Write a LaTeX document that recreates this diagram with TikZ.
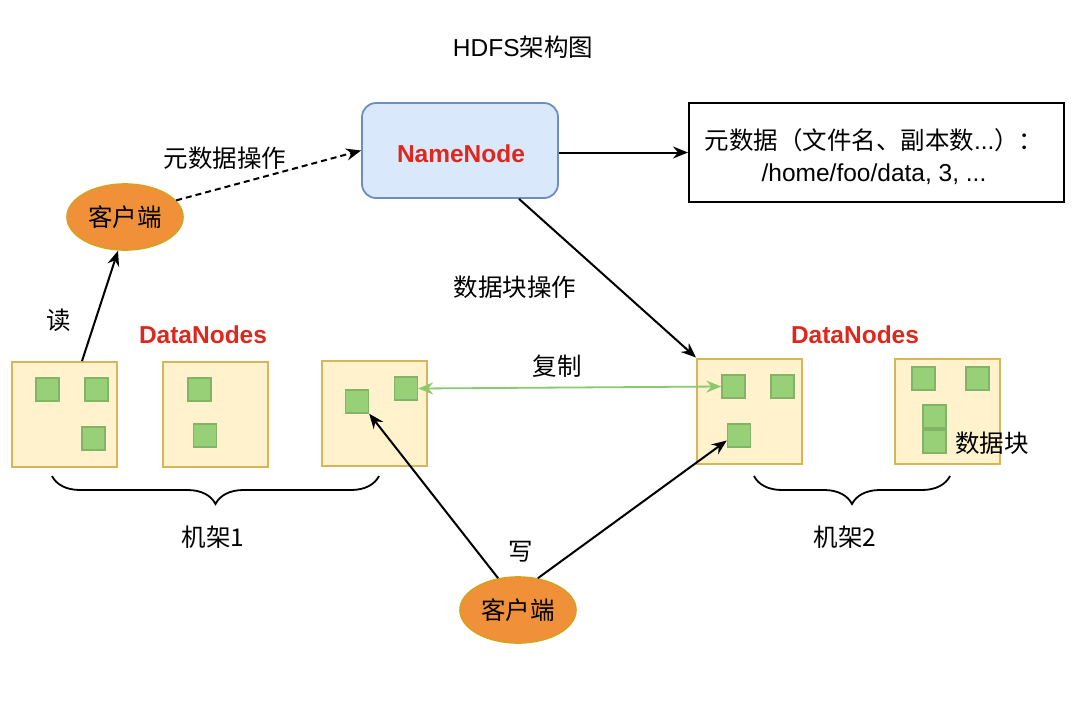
\documentclass[tikz,border=0pt]{standalone}
\usepackage{fontspec}
\setmainfont{Liberation Sans}
\newfontfamily\cjk{Noto Sans CJK SC}
\usetikzlibrary{arrows.meta,decorations.pathreplacing,shapes.geometric}
\definecolor{nnfill}{HTML}{DAE8FC}
\definecolor{nndraw}{HTML}{6C8EBF}
\definecolor{dnfill}{HTML}{FFF2CC}
\definecolor{dndraw}{HTML}{D6B656}
\definecolor{blkfill}{HTML}{97D077}
\definecolor{blkdraw}{HTML}{82B366}
\definecolor{clfill}{RGB}{240,145,58}
\definecolor{cldraw}{RGB}{215,160,30}
\definecolor{redtxt}{RGB}{222,40,30}
\definecolor{grn}{RGB}{140,200,110}
\begin{document}
\begin{tikzpicture}[x=1pt,y=-1pt,
  lbl/.style={font=\fontsize{24.5}{29}\selectfont, inner sep=0pt},
  clbl/.style={font=\fontsize{24.5}{29}\selectfont\cjk, inner sep=0pt},
  red/.style={font=\fontsize{24.5}{29}\selectfont\bfseries, text=redtxt, inner sep=0pt},
  nnbox/.style={draw=nndraw, fill=nnfill, rounded corners=14pt, line width=1.8pt, minimum width=196pt, minimum height=95pt},
  metabox/.style={draw=black, line width=2pt, minimum width=375pt, minimum height=99pt},
  client/.style={ellipse, draw=cldraw, fill=clfill, line width=1.6pt, minimum width=116pt, minimum height=66pt, inner sep=0pt, font=\fontsize{24.5}{29}\selectfont\cjk},
  dnbox/.style={draw=dndraw, fill=dnfill, line width=2pt, minimum width=105pt, minimum height=105pt, inner sep=0pt},
  blk/.style={draw=blkdraw, fill=blkfill, line width=1.4pt, minimum size=23pt, inner sep=0pt},
  tip/.tip={Stealth[length=15pt,width=12pt,inset=5pt]},
  arr/.style={-tip, line width=2pt},
  brace/.style={decorate, decoration={brace, amplitude=28pt}, line width=1.8pt}
]
\useasboundingbox (0,0) rectangle (1072,702);
\fill[white] (0,0) rectangle (1072,702);

% title
\node[lbl] (title) at (523,47) {HDFS{\cjk 架构图}};

% NameNode and metadata
\node[nnbox] (nn) at (460,150.5) {};
\node[red] (nnlbl) at (461,154) {NameNode};
\node[metabox] (meta) at (876.5,152.5) {};
\node[lbl, align=center, font=\fontsize{24.5}{32}\selectfont] (metatxt) at (874,157) {{\cjk 元数据（文件名、副本数}...{\cjk ）：}\\/home/foo/data, 3, ...};

% clients
\node[client] (c1) at (125,217) {客户端};
\node[client] (c2) at (518,610) {客户端};

% rack 1
\node[dnbox] (dA) at (64,414.5) {};
\node[dnbox] (dB) at (215.5,414.5) {};
\node[dnbox] (dC) at (374,413.5) {};
\node[blk] (a1) at (47.5,389.5) {};
\node[blk] (a2) at (96.5,389.5) {};
\node[blk] (a3) at (93.5,438.5) {};
\node[blk] (b1) at (199.5,389.5) {};
\node[blk] (b2) at (205,435.5) {};
\node[blk] (cc1) at (357,401.5) {};
\node[blk] (cc2) at (406,388.5) {};

% rack 2
\node[dnbox] (dD) at (749.5,411) {};
\node[dnbox] (dE) at (947,411) {};
\node[blk] (d1) at (733.5,386.5) {};
\node[blk] (d2) at (782.5,386.5) {};
\node[blk] (d3) at (739,435.5) {};
\node[blk] (e1) at (923.5,378.5) {};
\node[blk] (e2) at (977.5,378.5) {};
\node[blk] (e3) at (934.5,416.5) {};
\node[blk] (e4) at (934.5,441.5) {};
\node[clbl] (blklbl) at (992,443) {数据块};

\node[red] (dn1) at (203,335) {DataNodes};
\node[red] (dn2) at (855,335) {DataNodes};

% braces
\coordinate (r1l) at (52,476);
\coordinate (r1r) at (379,476);
\coordinate (r2l) at (754,476);
\coordinate (r2r) at (950,476);
\draw[brace] (r1r) -- (r1l);
\draw[brace] (r2r) -- (r2l);
\node[clbl] (rack1) at (213,537) {机架1};
\node[clbl] (rack2) at (845,537) {机架2};

% connectors
\draw[arr, dash pattern=on 6pt off 4pt] (c1.18) -- (nn.west);
\node[clbl] (metaop) at (225,158) {元数据操作};
\draw[arr] (nn.east |- meta.west) -- (meta.west);
\draw[arr] ([xshift=59pt]nn.south) -- (dD.north west);
\node[clbl] (blkop) at (515,287) {数据块操作};
\draw[arr] ([xshift=18pt]dA.north) -- ([xshift=-7pt]c1.south);
\node[clbl] (read) at (59,320) {读};
\draw[tip-tip, line width=1.8pt, draw=grn, fill=grn] (cc2.east) -- (d1.west);
\node[clbl] (copy) at (557,366) {复制};
\draw[arr] (c2.122) -- (cc1.south east);
\draw[arr] (c2.58) -- ([yshift=-5pt]d3.west);
\node[clbl] (write) at (521,552) {写};
\end{tikzpicture}
\end{document}
